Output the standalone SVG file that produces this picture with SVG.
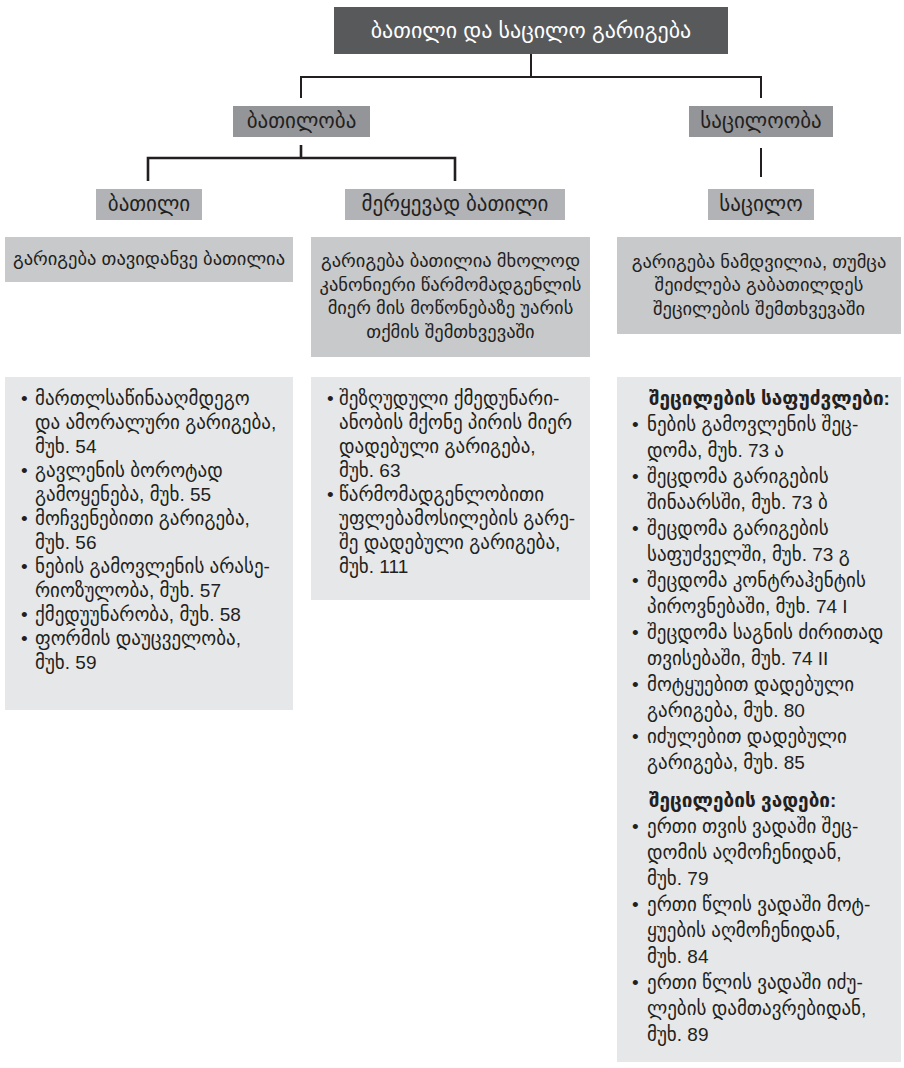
<svg xmlns="http://www.w3.org/2000/svg" width="904" height="1068" viewBox="0 0 904 1068">
<style>
.t{font-family:"Liberation Sans","DejaVu Sans",sans-serif;fill:#231f20}
.h{font-size:21px;text-anchor:middle}
.ttl{font-family:"Liberation Sans","DejaVu Sans",sans-serif;font-size:22px;fill:#ffffff;text-anchor:middle}
.d{font-size:18.5px;text-anchor:middle}
.b{font-size:19px}
.bb{font-size:19px;font-weight:bold}
.c{fill:none;stroke:#231f20;stroke-width:2}
.c2{fill:none;stroke:#231f20;stroke-width:2.6}
.l1{fill:#58595b}
.l2{fill:#939598}
.l3{fill:#b1b3b6}
.l4{fill:#c8c9cb}
.l5{fill:#e6e7e8}
</style>
<g id="connectors">
<path class="c" d="M531 54V77M301 98V77H761V98"/>
<path class="c2" d="M301 145V158M148 181V158H455V181"/>
<path class="c" d="M761 148V177"/>
</g>
<g id="title">
<rect class="l1" x="334" y="7" width="394" height="47"/>
<text class="ttl" x="531" y="37.5">ბათილი და საცილო გარიგება</text>
</g>
<g id="n-batiloba">
<rect class="l2" x="233" y="106" width="137" height="31"/>
<text class="t h" x="301.5" y="127.5">ბათილობა</text>
</g>
<g id="n-saciloba">
<rect class="l2" x="689" y="106" width="144" height="31"/>
<text class="t h" x="761" y="127.5">საცილოობა</text>
</g>
<g id="n-batili">
<rect class="l3" x="96" y="189" width="106" height="31"/>
<text class="t h" x="149" y="210.5">ბათილი</text>
</g>
<g id="n-meryevad">
<rect class="l3" x="345" y="189" width="220" height="31"/>
<text class="t h" x="455" y="210.5">მერყევად ბათილი</text>
</g>
<g id="n-sacilo">
<rect class="l3" x="708" y="189" width="106" height="31"/>
<text class="t h" x="761" y="210.5">საცილო</text>
</g>
<g id="d-batili">
<rect class="l4" x="5" y="237" width="288" height="45"/>
<text class="t d" x="149" y="265">გარიგება თავიდანვე ბათილია</text>
</g>
<g id="d-meryevad">
<rect class="l4" x="311" y="237" width="279" height="120"/>
<text class="t d" x="450.5"><tspan x="450.5" y="267">გარიგება ბათილია მხოლოდ</tspan><tspan x="450.5" y="291">კანონიერი წარმომადგენლის</tspan><tspan x="450.5" y="314">მიერ მის მოწონებაზე უარის</tspan><tspan x="450.5" y="338">თქმის შემთხვევაში</tspan></text>
</g>
<g id="d-sacilo">
<rect class="l4" x="617" y="237" width="284" height="97"/>
<text class="t d" x="759"><tspan x="759" y="267.5">გარიგება ნამდვილია, თუმცა</tspan><tspan x="759" y="291">შეიძლება გაბათილდეს</tspan><tspan x="759" y="314.5">შეცილების შემთხვევაში</tspan></text>
</g>
<g id="list-batili">
<rect class="l5" x="5" y="377" width="288" height="333"/>
<text class="t b">
<tspan x="21" y="405">•</tspan><tspan x="35" y="405">მართლსაწინააღმდეგო</tspan>
<tspan x="35" y="429">და ამორალური გარიგება,</tspan>
<tspan x="35" y="453">მუხ. 54</tspan>
<tspan x="21" y="477">•</tspan><tspan x="35" y="477">გავლენის ბოროტად</tspan>
<tspan x="35" y="501">გამოყენება, მუხ. 55</tspan>
<tspan x="21" y="525">•</tspan><tspan x="35" y="525">მოჩვენებითი გარიგება,</tspan>
<tspan x="35" y="549">მუხ. 56</tspan>
<tspan x="21" y="573">•</tspan><tspan x="35" y="573">ნების გამოვლენის არასე-</tspan>
<tspan x="35" y="597">რიოზულობა, მუხ. 57</tspan>
<tspan x="21" y="621">•</tspan><tspan x="35" y="621">ქმედუუნარობა, მუხ. 58</tspan>
<tspan x="21" y="645">•</tspan><tspan x="35" y="645">ფორმის დაუცველობა,</tspan>
<tspan x="35" y="669">მუხ. 59</tspan>
</text>
</g>
<g id="list-meryevad">
<rect class="l5" x="311" y="377" width="279" height="223"/>
<text class="t b">
<tspan x="327" y="405">•</tspan><tspan x="339" y="405">შეზღუდული ქმედუნარი-</tspan>
<tspan x="339" y="429">ანობის მქონე პირის მიერ</tspan>
<tspan x="339" y="453">დადებული გარიგება,</tspan>
<tspan x="339" y="477">მუხ. 63</tspan>
<tspan x="327" y="501">•</tspan><tspan x="339" y="501">წარმომადგენლობითი</tspan>
<tspan x="339" y="525">უფლებამოსილების გარე-</tspan>
<tspan x="339" y="549">შე დადებული გარიგება,</tspan>
<tspan x="339" y="573">მუხ. 111</tspan>
</text>
</g>
<g id="list-sacilo">
<rect class="l5" x="617" y="377" width="284" height="685"/>
<text class="t bb" x="649" y="405">შეცილების საფუძვლები:</text>
<text class="t b">
<tspan x="632" y="431">•</tspan><tspan x="647" y="431">ნების გამოვლენის შეც-</tspan>
<tspan x="647" y="457">დომა, მუხ. 73 ა</tspan>
<tspan x="632" y="483">•</tspan><tspan x="647" y="483">შეცდომა გარიგების</tspan>
<tspan x="647" y="509">შინაარსში, მუხ. 73 ბ</tspan>
<tspan x="632" y="535">•</tspan><tspan x="647" y="535">შეცდომა გარიგების</tspan>
<tspan x="647" y="561">საფუძველში, მუხ. 73 გ</tspan>
<tspan x="632" y="587">•</tspan><tspan x="647" y="587">შეცდომა კონტრაჰენტის</tspan>
<tspan x="647" y="613">პიროვნებაში, მუხ. 74 I</tspan>
<tspan x="632" y="639">•</tspan><tspan x="647" y="639">შეცდომა საგნის ძირითად</tspan>
<tspan x="647" y="665">თვისებაში, მუხ. 74 II</tspan>
<tspan x="632" y="691">•</tspan><tspan x="647" y="691">მოტყუებით დადებული</tspan>
<tspan x="647" y="717">გარიგება, მუხ. 80</tspan>
<tspan x="632" y="743">•</tspan><tspan x="647" y="743">იძულებით დადებული</tspan>
<tspan x="647" y="769">გარიგება, მუხ. 85</tspan>
</text>
<text class="t bb" x="649" y="807">შეცილების ვადები:</text>
<text class="t b">
<tspan x="632" y="833">•</tspan><tspan x="647" y="833">ერთი თვის ვადაში შეც-</tspan>
<tspan x="647" y="859">დომის აღმოჩენიდან,</tspan>
<tspan x="647" y="885">მუხ. 79</tspan>
<tspan x="632" y="911">•</tspan><tspan x="647" y="911">ერთი წლის ვადაში მოტ-</tspan>
<tspan x="647" y="937">ყუების აღმოჩენიდან,</tspan>
<tspan x="647" y="963">მუხ. 84</tspan>
<tspan x="632" y="989">•</tspan><tspan x="647" y="989">ერთი წლის ვადაში იძუ-</tspan>
<tspan x="647" y="1015">ლების დამთავრებიდან,</tspan>
<tspan x="647" y="1041">მუხ. 89</tspan>
</text>
</g>
</svg>
